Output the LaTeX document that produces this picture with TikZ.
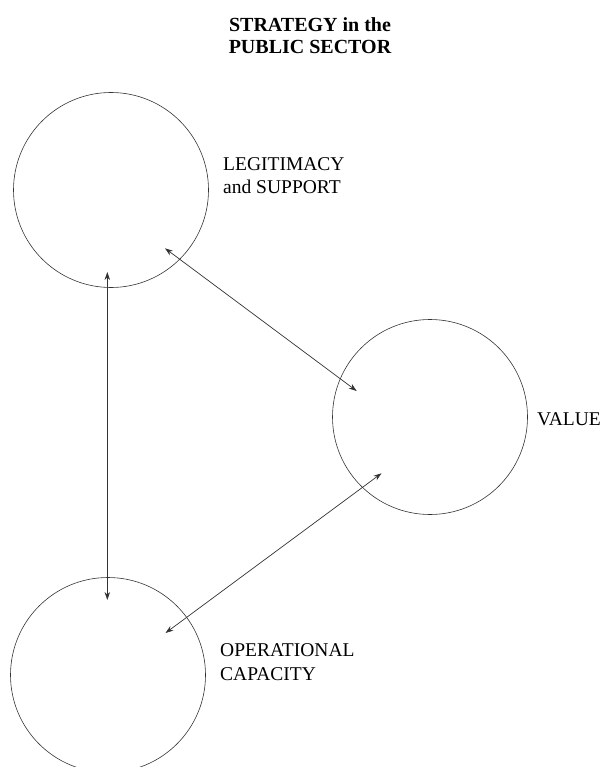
\documentclass[tikz,border=0pt]{standalone}
\usepackage{fontspec}
\setmainfont{Liberation Serif}
\usetikzlibrary{arrows.meta}
\definecolor{linegray}{gray}{.2}

\begin{document}
\begin{tikzpicture}[x=1pt, y=-1pt]
	  \tikzstyle{every node} = [inner sep=0pt]
	  \tikzstyle{ball} = [circle, draw=linegray, line width=.6pt, minimum size=195pt]
	  \tikzstyle{tag} = [anchor=north west, align=left, font=\fontsize{19.5}{23.5}\selectfont]
	  \tikzstyle{link} = [{Stealth[length=8pt,width=5.5pt]}-{Stealth[length=8pt,width=5.5pt]}, line width=.7pt, color=linegray]
	  \useasboundingbox (0,0) rectangle (604,767);
	  \node (title) [anchor=north, align=center, font=\bfseries\fontsize{20}{22.3}\selectfont] at (310,17) {STRATEGY in the\\PUBLIC SECTOR};
	  \node (legit) [ball] at (111,190) {};
	  \node (value) [ball] at (430,417) {};
	  \node (capacity) [ball] at (108,675) {};
	  \node (legittag) [tag] at (223,157) {LEGITIMACY\\and SUPPORT};
	  \node (valuetag) [anchor=base west, font=\fontsize{19.5}{23.5}\selectfont] at (537,425) {VALUE};
	  \node (capacitytag) [tag] at (220,643.5) {OPERATIONAL\\CAPACITY};
	  \coordinate (l1) at (107.3,272);
	  \coordinate (l2) at (165,248.3);
	  \coordinate (v1) at (356.7,391);
	  \coordinate (v2) at (381.5,473.3);
	  \coordinate (c1) at (107.3,600);
	  \coordinate (c2) at (165.5,633);
	  \draw [link] (l1) -- (c1);
	  \draw [link] (l2) -- (v1);
	  \draw [link] (v2) -- (c2);
	\end{tikzpicture}
\end{document}
